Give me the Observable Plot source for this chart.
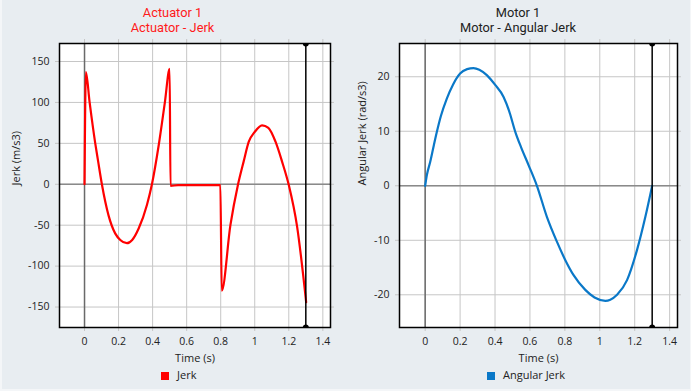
<!DOCTYPE html>
<html>
<head>
<meta charset="utf-8">
<script src="https://cdn.jsdelivr.net/npm/d3@7"></script>
<script src="https://cdn.jsdelivr.net/npm/@observablehq/plot@0.6"></script>
<style>
  html, body { margin: 0; padding: 0; background: #f4f6f8; }
  #wrap { position: relative; width: 691px; height: 391px; overflow: hidden; font-family: 'Open Sans', sans-serif; }
  #bg { position: absolute; left: 2px; top: 0; width: 688px; height: 389px; background: #e8edf1; }
  .panel { position: absolute; top: 0; }
  .title { height: 36px; box-sizing: border-box; padding-top: 5px; text-align: center; font-family: Roboto, sans-serif; font-size: 12.8px; line-height: 15px; }
  .legend { height: 25px; font-size: 11px; line-height: 18px; color: #222; white-space: nowrap; }
  .sw { display: inline-block; width: 8px; height: 8px; margin-right: 8px; vertical-align: -0.5px; }
  svg { display: block; }
</style>
</head>
<body>
<div id="wrap"><div id="bg"></div></div>
<script>
// ---- data ----
const xTicks = [0, 0.2, 0.4, 0.6, 0.8, 1, 1.2, 1.4];

const jerkTime  = [0, 0.008, 0.03, 0.063, 0.08, 0.102, 0.141, 0.18, 0.21, 0.249, 0.28, 0.318, 0.367, 0.396, 0.436, 0.472, 0.5, 0.505, 0.55, 0.6, 0.7, 0.798, 0.806, 0.857, 0.902, 0.935, 0.965, 1.0, 1.043, 1.08, 1.122, 1.16, 1.2, 1.249, 1.302];
const jerkValue = [0, 137, 100, 50, 28, 0, -38, -60, -68, -72, -68, -54, -25, 0, 48, 100, 141, -2, -1, -1, -1, -1, -130, -50, 0, 28, 52, 64, 72, 69, 52, 28, -1, -52, -144];
const jerkTicks = [-150, -100, -50, 0, 50, 100, 150];

const angTime  = [0, 0.01, 0.029, 0.05, 0.067, 0.09, 0.124, 0.16, 0.2, 0.24, 0.277, 0.31, 0.353, 0.401, 0.449, 0.48, 0.516, 0.55, 0.592, 0.64, 0.697, 0.755, 0.802, 0.85, 0.917, 0.97, 1.032, 1.06, 1.099, 1.156, 1.213, 1.261, 1.3];
const angValue = [0, 2, 4.4, 7.5, 9.9, 12.8, 16.0, 18.6, 20.6, 21.4, 21.6, 21.3, 20.3, 18.5, 16.3, 13.8, 9.9, 7, 3.8, 0, -5.7, -10.3, -13.6, -16.4, -19.1, -20.5, -21.1, -20.9, -20.0, -17.3, -11.8, -5.7, 0];
const angTicks = [-20, -10, 0, 10, 20];

const cursorTime = 1.3;

const fmt = d => String(+(+d).toFixed(1));

function makePanel(o) {
  const data = o.t.map((t, i) => ({t, v: o.v[i]}));
  const panel = document.createElement("div");
  panel.className = "panel";
  panel.style.left = o.left + "px";
  panel.style.width = o.width + "px";

  const title = document.createElement("div");
  title.className = "title";
  title.style.color = o.titleColor;
  title.innerHTML = o.title.join("<br>");
  panel.appendChild(title);

  const chart = Plot.plot({
    width: o.width,
    height: 330,
    marginTop: 7,
    marginBottom: 39,
    marginLeft: o.marginLeft,
    marginRight: o.marginRight,
    x: {domain: [-0.147, 1.445], label: null},
    y: {domain: o.yDomain, label: null},
    style: {fontFamily: "'Open Sans', sans-serif", fontSize: "10.5px", background: "transparent", color: "#222"},
    marks: [
      Plot.frame({fill: "white", stroke: null}),
      Plot.gridX(xTicks, {stroke: "#c6c6c6", strokeOpacity: 1, insetTop: -4, insetBottom: -4}),
      Plot.gridY(o.yTicks, {stroke: "#c6c6c6", strokeOpacity: 1, insetLeft: -4, insetRight: -4}),
      Plot.ruleY([0], {stroke: "#8a8a8a", strokeWidth: 1.5}),
      Plot.ruleX([0], {stroke: "#6a6a6a", strokeWidth: 1.5}),
      Plot.axisX(xTicks, {tickSize: 0, tickPadding: 10, tickFormat: fmt, fill: "#222"}),
      Plot.axisY(o.yTicks, {tickSize: 0, tickPadding: 10, tickFormat: d => String(d), fill: "#222"}),
      Plot.line(data, {x: "t", y: "v", stroke: o.color, strokeWidth: 2.2, strokeLinejoin: "round", curve: "monotone-x", clip: true}),
      Plot.ruleX([cursorTime], {stroke: "black", strokeWidth: 1.5}),
      Plot.dot(o.yDomain, {x: () => cursorTime, y: d => d, r: 3, fill: "black", stroke: null, clip: true}),
      Plot.frame({stroke: "black", strokeWidth: 1.5}),
      Plot.text(["Time (s)"], {text: d => d, frameAnchor: "bottom", dy: 31, lineAnchor: "middle", fontSize: 11, fill: "#222"}),
      Plot.text([o.yLabel], {text: d => d, frameAnchor: "left", dx: o.yLabelDx, rotate: -90, lineAnchor: "middle", fontSize: 11, fill: "#222"})
    ]
  });
  panel.appendChild(chart);

  const legend = document.createElement("div");
  legend.className = "legend";
  legend.style.paddingLeft = o.legendLeft + "px";
  legend.innerHTML = `<span class="sw" style="background:${o.color}"></span>${o.legend}`;
  panel.appendChild(legend);

  document.getElementById("wrap").appendChild(panel);
}

makePanel({
  left: 0, width: 345, marginLeft: 59, marginRight: 15,
  title: ["Actuator 1", "Actuator - Jerk"], titleColor: "#ff1a1a",
  t: jerkTime, v: jerkValue, color: "#ff0000",
  yDomain: [-175, 172], yTicks: jerkTicks,
  yLabel: "Jerk (m/s3)", yLabelDx: -43,
  legend: "Jerk", legendLeft: 161
});

makePanel({
  left: 345, width: 346, marginLeft: 54, marginRight: 14,
  title: ["Motor 1", "Motor - Angular Jerk"], titleColor: "#222",
  t: angTime, v: angValue, color: "#0a78c8",
  yDomain: [-26, 26.1], yTicks: angTicks,
  yLabel: "Angular Jerk (rad/s3)", yLabelDx: -37,
  legend: "Angular Jerk", legendLeft: 142
});
</script>
</body>
</html>
